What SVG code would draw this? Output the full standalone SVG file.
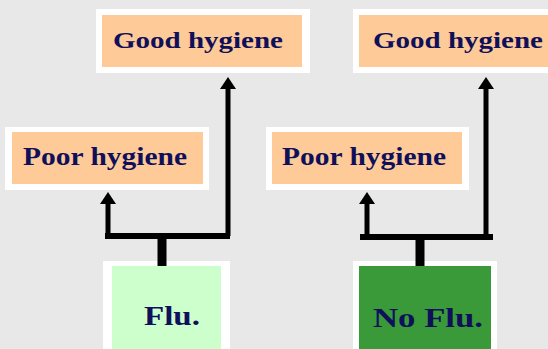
<svg xmlns="http://www.w3.org/2000/svg" width="548" height="349" viewBox="0 0 548 349">
  <defs>
    <!-- arrowhead drawn along +x so orient="auto" points it along the path -->
    <marker id="head" markerUnits="userSpaceOnUse" markerWidth="12" markerHeight="16" refX="4" refY="8" orient="auto" viewBox="0 0 12 16">
      <polygon points="0,0 12,8 0,16" fill="#000"/>
    </marker>
    <style>
      .frame { fill: #ffffff; }
      .outcome { fill: #fdca98; }
      .flu { fill: #ccffcc; }
      .noflu { fill: #3a9a3a; }
      .label { font-family: "Liberation Serif", "Times New Roman", serif; font-weight: bold; fill: #10105a; }
      .wire { fill: none; stroke: #000; stroke-width: 5; }
      .bar { stroke: #000; stroke-width: 6; }
      .stem { stroke: #000; stroke-width: 9; }
    </style>
  </defs>

  <rect x="0" y="0" width="548" height="349" fill="#e8e8e8"/>

  <!-- outcome boxes -->
  <g id="good-left">
    <rect class="frame" x="96" y="9" width="214" height="64"/>
    <rect class="outcome" x="102" y="15" width="200" height="52"/>
    <text class="label" x="113" y="48" font-size="24" textLength="170" lengthAdjust="spacingAndGlyphs">Good hygiene</text>
  </g>
  <g id="good-right">
    <rect class="frame" x="353" y="9" width="200" height="64"/>
    <rect class="outcome" x="359" y="15" width="194" height="52"/>
    <text class="label" x="373" y="48" font-size="24" textLength="170" lengthAdjust="spacingAndGlyphs">Good hygiene</text>
  </g>
  <g id="poor-left">
    <rect class="frame" x="5" y="127" width="204" height="63"/>
    <rect class="outcome" x="12" y="132" width="191" height="52"/>
    <text class="label" x="23" y="165" font-size="25" textLength="164" lengthAdjust="spacingAndGlyphs">Poor hygiene</text>
  </g>
  <g id="poor-right">
    <rect class="frame" x="266" y="127" width="203" height="63"/>
    <rect class="outcome" x="272" y="132" width="190" height="52"/>
    <text class="label" x="282" y="165" font-size="25" textLength="164" lengthAdjust="spacingAndGlyphs">Poor hygiene</text>
  </g>

  <!-- condition boxes -->
  <g id="flu">
    <rect class="frame" x="103" y="261" width="127" height="95"/>
    <rect class="flu" x="112" y="266" width="109" height="90"/>
    <text class="label" x="144" y="325" font-size="27" textLength="56" lengthAdjust="spacingAndGlyphs">Flu.</text>
  </g>
  <g id="no-flu">
    <rect class="frame" x="353" y="261" width="144" height="95"/>
    <rect class="noflu" x="359" y="266" width="132" height="90"/>
    <text class="label" x="373" y="327" font-size="28" textLength="110" lengthAdjust="spacingAndGlyphs">No Flu.</text>
  </g>

  <!-- connectors -->
  <g id="connectors">
    <line class="stem" x1="162" y1="236" x2="162" y2="266"/>
    <line class="bar" x1="105" y1="236" x2="230" y2="236"/>
    <path class="wire" d="M108,236 V200" marker-end="url(#head)"/>
    <path class="wire" d="M228,236 V85" marker-end="url(#head)"/>

    <line class="stem" x1="420" y1="237" x2="420" y2="266"/>
    <line class="bar" x1="360" y1="237" x2="493" y2="237"/>
    <path class="wire" d="M367,237 V200" marker-end="url(#head)"/>
    <path class="wire" d="M486,237 V85" marker-end="url(#head)"/>
  </g>
</svg>
